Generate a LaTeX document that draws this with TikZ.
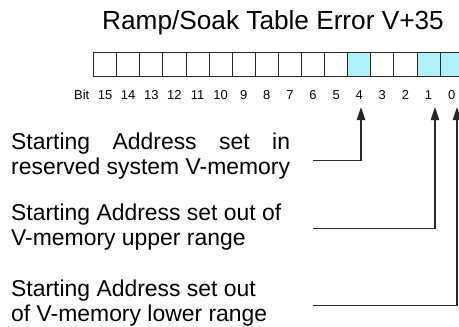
\documentclass[tikz,border=0pt]{standalone}
\usepackage{fontspec}
\setmainfont{Liberation Sans}
\usepackage{calc}
\usetikzlibrary{arrows.meta}
\definecolor{bitfill}{RGB}{176,242,250}
\definecolor{linegray}{RGB}{40,40,40}
\begin{document}
\begin{tikzpicture}[x=1bp, y=-1bp,
  cell/.style={draw=linegray, line width=0.9bp, minimum width=23.1bp, minimum height=24bp, inner sep=0pt, outer sep=0pt},
  setcell/.style={cell, fill=bitfill},
  bitlbl/.style={font=\fontsize{13}{15}\selectfont, anchor=base, inner sep=0pt},
  note/.style={font=\fontsize{23}{25}\selectfont, align=left, anchor=north west, inner sep=0pt},
  lead/.style={draw=linegray, line width=1.1bp, -{Triangle[length=13bp,width=8.5bp]}}]
\useasboundingbox (0,0) rectangle (459,326);
\node[font=\fontsize{26.3}{30}\selectfont, anchor=base] (title) at (273,29) {Ramp/Soak Table Error V+35};
% register V+35, bit 0 on the right
\foreach \b in {0,...,15} {
  \def\st{cell}
  \ifnum\b=0 \def\st{setcell}\fi
  \ifnum\b=1 \def\st{setcell}\fi
  \ifnum\b=4 \def\st{setcell}\fi
  \node[\st] (b\b) at ({451.6-23.1*\b},64) {};
  \node[bitlbl] (l\b) at ({451.6-23.1*\b},99) {\b};
}
\node[bitlbl, anchor=base east] (bit) at (89.5,99) {Bit};
% error descriptions
\node[note] (t4) at (11,132.5) {\makebox[\widthof{reserved system V-memory}][s]{Starting Address set in}\\reserved system V-memory};
\node[note] (t1) at (11,203.5) {Starting Address set out of\\V-memory upper range};
\node[note] (t0) at (11,279.5) {Starting Address set out\\of V-memory lower range};
\coordinate (from4) at (313,160.5);
\coordinate (from1) at (313,228.5);
\coordinate (from0) at (313,305.5);
\coordinate (tip4) at (361,107);
\coordinate (tip1) at (435,107);
\coordinate (tip0) at (457,107);
\draw[lead] (from4) -| (tip4);
\draw[lead] (from1) -| (tip1);
\draw[lead] (from0) -| (tip0);
\end{tikzpicture}
\end{document}
